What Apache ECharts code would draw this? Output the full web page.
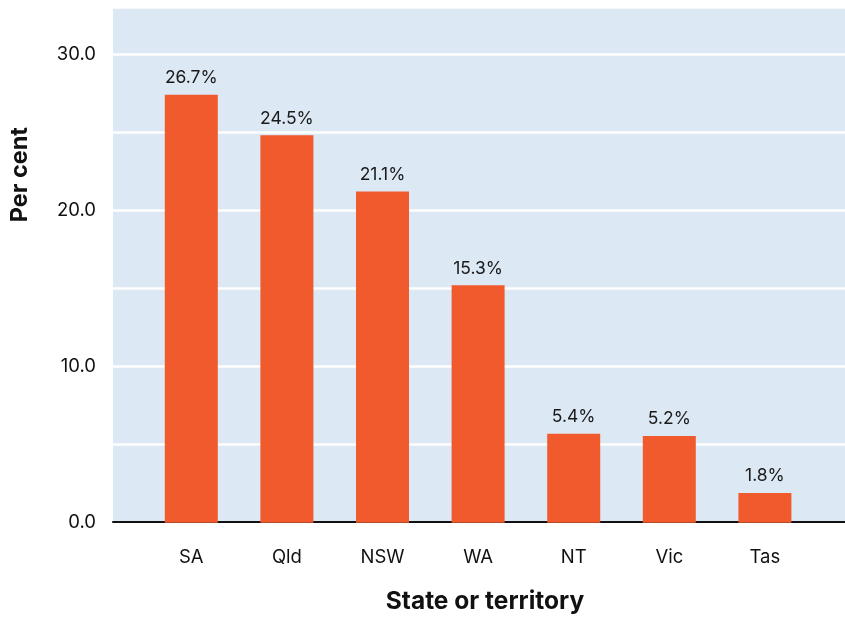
<!DOCTYPE html>
<html>
<head>
<meta charset="utf-8">
<script src="https://cdn.jsdelivr.net/npm/echarts@6/dist/echarts.min.js"></script>
<style>html,body{margin:0;padding:0;background:#fff}#c{width:845px;height:619px}</style>
</head>
<body>
<div id="c"></div>
<script>
var categories = ['SA', 'Qld', 'NSW', 'WA', 'NT', 'Vic', 'Tas'];
var barValues = [27.4, 24.8, 21.2, 15.2, 5.7, 5.55, 1.9];
var barLabels = ['26.7%', '24.5%', '21.1%', '15.3%', '5.4%', '5.2%', '1.8%'];
var yMin = 0, yMax = 33, yStep = 5, yLabelStep = 10;

var font = 'Inter, Liberation Sans, Arial, sans-serif';
var chart = echarts.init(document.getElementById('c'), null, {renderer: 'canvas'});
chart.setOption({
  backgroundColor: '#ffffff',
  animation: false,
  grid: [
    {left: 111, right: 0, top: 7.3, bottom: 96.3, show: true, backgroundColor: '#dce8f4', borderWidth: 0},
    {left: 143.5, right: 32.3, top: 7.3, bottom: 96.3}
  ],
  xAxis: [
    {type: 'category', gridIndex: 0, data: categories,
     axisLine: {show: true, lineStyle: {color: '#111', width: 2}},
     axisTick: {show: false}, axisLabel: {show: false}, splitLine: {show: false},
     name: 'State or territory', nameLocation: 'middle', nameGap: 67,
     nameTextStyle: {fontFamily: font, fontWeight: 'bold', fontSize: 24.5, color: '#111', padding: [0, 0, 0, 12]}},
    {type: 'category', gridIndex: 1, data: categories,
     axisLine: {show: false}, axisTick: {show: false},
     axisLabel: {fontFamily: font, fontSize: 18.5, color: '#111', margin: 25}}
  ],
  yAxis: [
    {type: 'value', gridIndex: 0, min: yMin, max: yMax, interval: yStep,
     axisLine: {show: false}, axisTick: {show: false},
     axisLabel: {fontFamily: font, fontSize: 18.5, color: '#111', margin: 17,
       formatter: function (v) { return (v % yLabelStep === 0) ? v.toFixed(1) : ''; }},
     splitLine: {show: true, lineStyle: {color: '#ffffff', width: 2.5}},
     name: 'Per cent', nameLocation: 'middle', nameGap: 81, nameRotate: 90,
     nameTextStyle: {fontFamily: font, fontWeight: 'bold', fontSize: 23.5, color: '#111', padding: [0, 0, 0, 180]}},
    {type: 'value', gridIndex: 1, min: yMin, max: yMax, interval: yStep, show: false,
     splitLine: {show: false}}
  ],
  series: [{
    type: 'bar', xAxisIndex: 1, yAxisIndex: 1,
    data: barValues,
    barWidth: 53,
    itemStyle: {color: '#f15a2c'},
    label: {show: true, position: 'top', distance: 8, fontFamily: font, fontSize: 17.5, color: '#1a1a1a',
      formatter: function (p) { return barLabels[p.dataIndex]; }}
  }]
});
</script>
</body>
</html>
